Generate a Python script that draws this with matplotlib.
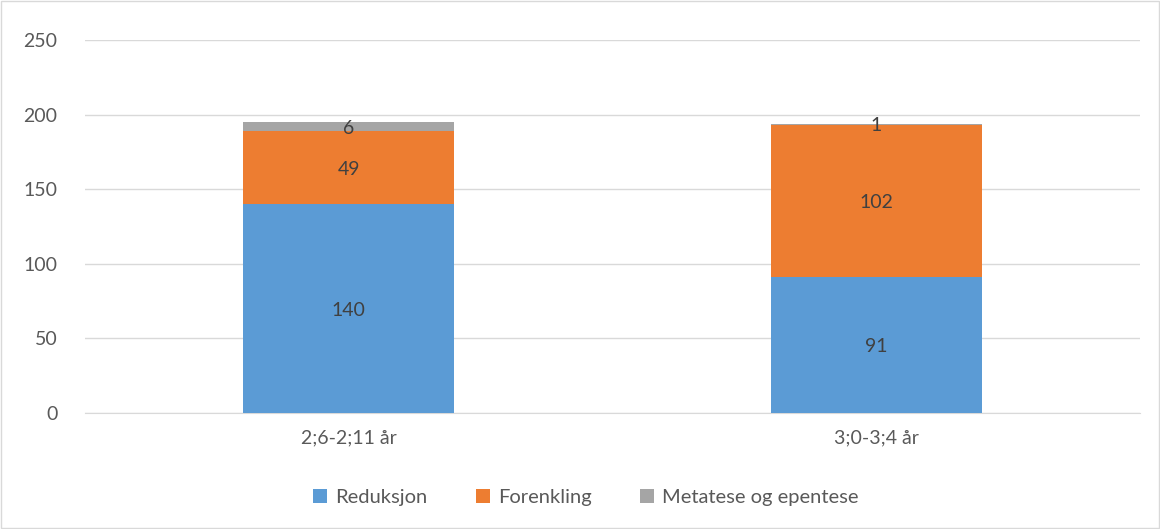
import numpy as np
import matplotlib.pyplot as plt
from matplotlib.patches import Rectangle

categories = ["2;6-2;11 år", "3;0-3;4 år"]
reduksjon = [140, 91]
forenkling = [49, 102]
metatese = [6, 1]
series_names = ["Reduksjon", "Forenkling", "Metatese og epentese"]
colors = ["#5B9BD5", "#ED7D31", "#A5A5A5"]
text_color = "#595959"

plt.rcParams['font.family'] = ['Lato', 'DejaVu Sans']

fig = plt.figure(figsize=(11.6, 5.29), dpi=100)
ax = fig.add_axes([0.0733, 0.2193, 0.9097, 0.7051])

x = np.arange(len(categories))
bottom = np.zeros(len(categories))
for vals, name, c in zip([reduksjon, forenkling, metatese], series_names, colors):
    bars = ax.bar(x, vals, width=0.4, bottom=bottom, color=c, label=name, zorder=3)
    for b, v, btm in zip(bars, vals, bottom):
        ax.text(b.get_x() + b.get_width() / 2, btm + v / 2 - 1, str(v),
                ha="center", va="center", fontsize=14, color="#404040", zorder=4)
    bottom += np.array(vals)

ax.set_xlim(-0.5, 1.5)
ax.set_ylim(0, 250)
ax.set_yticks(range(0, 251, 50))
ax.set_xticks(x)
ax.set_xticklabels(categories)
ax.grid(axis="y", color="#D9D9D9", linewidth=1, zorder=0)
for s in ["top", "right", "left"]:
    ax.spines[s].set_visible(False)
ax.spines["bottom"].set_color("#D9D9D9")
ax.tick_params(axis="both", length=0, labelsize=14, labelcolor=text_color)
ax.tick_params(axis="x", pad=12)
ax.tick_params(axis="y", pad=20)

fig.legend(loc="center", bbox_to_anchor=(0.505, 0.06), ncol=3, frameon=False,
           fontsize=14.5, labelcolor=text_color, handlelength=0.7, handleheight=0.7,
           columnspacing=2.4, handletextpad=0.4)

fig.add_artist(Rectangle((0.001, 0.001), 0.998, 0.997, transform=fig.transFigure,
                         fill=False, edgecolor="#D9D9D9", linewidth=1))

fig.savefig("out.png", dpi=100)
